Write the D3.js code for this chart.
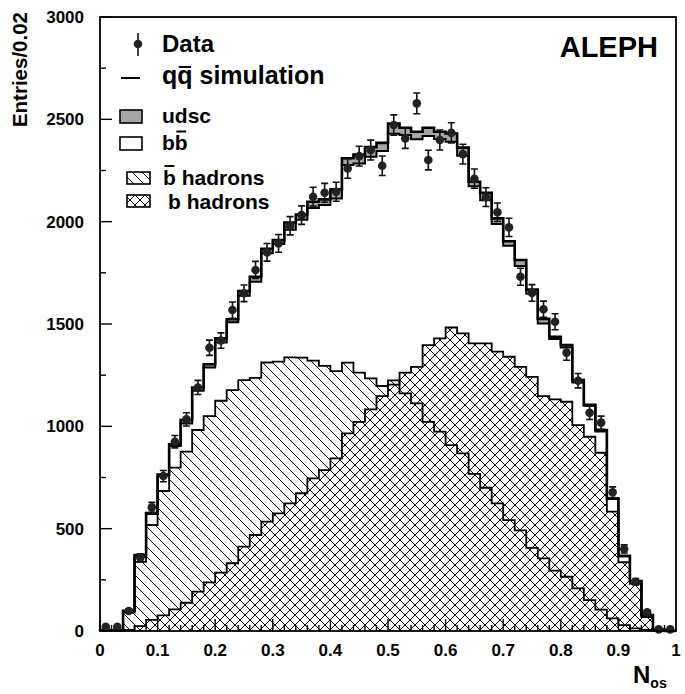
<!DOCTYPE html>
<html>
<head>
<meta charset="utf-8">
<script src="https://cdn.jsdelivr.net/npm/d3@7"></script>
<style>
body { margin: 0; background: #fff; }
text { font-family: "Liberation Sans", Arial, Helvetica, sans-serif; font-weight: bold; fill: #000; }
</style>
</head>
<body>
<div id="chart"></div>
<script>
// N_os histogram, 50 bins of width 0.02
const binWidth = 0.02

// simulation components (bb = bbar hadrons + b hadrons, udsc stacked on top)
const bbarHadrons = [2, 2, 90, 338, 518, 684, 798, 876, 982, 1050,
    1125, 1177, 1226, 1237, 1312, 1316, 1337, 1336, 1321, 1295,
    1270, 1311, 1262, 1234, 1197, 1225, 1161, 1112, 1022, 974,
    908, 868, 768, 700, 624, 542, 492, 406, 355, 295,
    265, 208, 151, 104, 62, 29, 13, 5, 1, 0]
const bHadrons = [0, 0, 5, 24, 54, 76, 106, 138, 192, 238,
    285, 331, 412, 469, 534, 575, 624, 673, 746, 786,
    843, 966, 1022, 1083, 1148, 1204, 1262, 1291, 1397, 1430,
    1483, 1454, 1405, 1405, 1365, 1340, 1291, 1242, 1148, 1132,
    1120, 1006, 949, 871, 583, 336, 230, 68, 4, 0]
const udsc = [1, 1, 4, 9, 4, 5, 8, 17, 16, 15,
    20, 15, 23, 25, 22, 19, 35, 26, 30, 28,
    45, 33, 44, 47, 40, 50, 36, 36, 40, 35,
    40, 40, 22, 36, 27, 22, 30, 20, 22, 10,
    12, 12, 5, 7, 3, 2, 1, 5, 2, 0]

// measured data
const dataCounts = [20, 20, 98, 358, 604, 757, 925, 1034, 1190, 1384,
    1419, 1568, 1650, 1764, 1850, 1894, 1980, 2032, 2122, 2141,
    2146, 2260, 2320, 2350, 2273, 2472, 2407, 2578, 2301, 2399,
    2434, 2330, 2210, 2120, 2046, 1972, 1731, 1652, 1572, 1511,
    1360, 1223, 1066, 1018, 678, 401, 241, 91, 8, 8]
const dataErrors = [4.5, 4.5, 9.9, 18.9, 24.6, 27.5, 30.4, 32.2, 34.5, 37.2,
    37.7, 39.6, 40.6, 42.0, 43.0, 43.5, 44.5, 45.1, 46.1, 46.3,
    46.3, 47.5, 48.2, 48.5, 47.7, 49.7, 49.1, 50.8, 48.0, 49.0,
    49.3, 48.3, 47.0, 46.0, 45.2, 44.4, 41.6, 40.6, 39.6, 38.9,
    36.9, 35.0, 32.6, 31.9, 26.0, 20.0, 15.5, 9.5, 2.8, 2.8]

const xMajor = [0, 0.1, 0.2, 0.3, 0.4, 0.5, 0.6, 0.7, 0.8, 0.9, 1]
const xLabels = ["0", "0.1", "0.2", "0.3", "0.4", "0.5", "0.6", "0.7", "0.8", "0.9", "1"]
const yMajor = [0, 500, 1000, 1500, 2000, 2500, 3000]
const yMinor = [250, 750, 1250, 1750, 2250, 2750]

const dimensions = { "width": 685, "height": 694 }
const margin = { "top": 17, "left": 100, "right": 9, "bottom": 63 }

const x = d3.scaleLinear().domain([0, 1]).range([margin.left, dimensions.width - margin.right])
const y = d3.scaleLinear().domain([0, 3000]).range([dimensions.height - margin.bottom, margin.top])

const svg = d3.select("#chart").append("svg")
    .attr("width", dimensions.width).attr("height", dimensions.height)

// hatch patterns
const defs = svg.append("defs")
const hs = 10
defs.append("pattern").attr("id", "hatch1").attr("patternUnits", "userSpaceOnUse")
    .attr("width", hs).attr("height", hs)
    .append("path")
    .attr("d", `M-1,-1L${hs + 1},${hs + 1}M-1,${hs - 1}L1,${hs + 1}M${hs - 1},-1L${hs + 1},1`)
    .attr("stroke", "#000").attr("stroke-width", 1)
const cross = defs.append("pattern").attr("id", "hatch2").attr("patternUnits", "userSpaceOnUse")
    .attr("width", hs).attr("height", hs)
cross.append("path")
    .attr("d", `M-1,-1L${hs + 1},${hs + 1}M-1,${hs - 1}L1,${hs + 1}M${hs - 1},-1L${hs + 1},1` +
        `M-1,${hs + 1}L${hs + 1},-1M-1,1L1,-1M${hs - 1},${hs + 1}L${hs + 1},${hs - 1}`)
    .attr("stroke", "#000").attr("stroke-width", 1)

// stacked totals
const bb = bbarHadrons.map((v, i) => v + bHadrons[i])
const total = bb.map((v, i) => v + udsc[i])

function stepPath(values) {
    var p = d3.path()
    p.moveTo(x(0), y(0))
    values.forEach((v, i) => {
        p.lineTo(x(i * binWidth), y(v))
        p.lineTo(x((i + 1) * binWidth), y(v))
    })
    p.lineTo(x(values.length * binWidth), y(0))
    return p.toString()
}

const plot = svg.append("g")
plot.append("path").attr("d", stepPath(total) + "Z").attr("fill", "#a6a6a6")
plot.append("path").attr("d", stepPath(bb) + "Z").attr("fill", "#fff")
plot.append("path").attr("d", stepPath(bbarHadrons) + "Z").attr("fill", "url(#hatch1)")
plot.append("path").attr("d", stepPath(bHadrons) + "Z").attr("fill", "url(#hatch2)")

plot.append("path").attr("d", stepPath(bbarHadrons)).attr("fill", "none").attr("stroke", "#000").attr("stroke-width", 1.8)
plot.append("path").attr("d", stepPath(bHadrons)).attr("fill", "none").attr("stroke", "#000").attr("stroke-width", 1.8)
plot.append("path").attr("d", stepPath(bb)).attr("fill", "none").attr("stroke", "#000").attr("stroke-width", 2)
plot.append("path").attr("d", stepPath(total)).attr("fill", "none").attr("stroke", "#000").attr("stroke-width", 2.6)

// data points
const pts = plot.selectAll("g.pt").data(dataCounts).join("g").attr("class", "pt")
    .attr("transform", (d, i) => `translate(${x((i + 0.5) * binWidth)},0)`)
pts.append("path")
    .attr("d", (d, i) => {
        var lo = y(Math.max(0, d - dataErrors[i])), hi = y(d + dataErrors[i])
        return `M0,${lo}L0,${hi}M-3.5,${lo}L3.5,${lo}M-3.5,${hi}L3.5,${hi}`
    })
    .attr("stroke", "#111").attr("stroke-width", 1.6).attr("fill", "none")
pts.append("circle").attr("cy", d => y(d)).attr("r", 4.3).attr("fill", "#222")

// frame and ticks
svg.append("rect").attr("x", x(0)).attr("y", y(3000))
    .attr("width", x(1) - x(0)).attr("height", y(0) - y(3000))
    .attr("fill", "none").attr("stroke", "#000").attr("stroke-width", 1.8)

const ticks = svg.append("g").attr("stroke", "#000").attr("stroke-width", 1.4)
yMajor.forEach(v => ticks.append("line").attr("x1", x(0)).attr("x2", x(0) + 12).attr("y1", y(v)).attr("y2", y(v)))
yMinor.forEach(v => ticks.append("line").attr("x1", x(0)).attr("x2", x(0) + 6).attr("y1", y(v)).attr("y2", y(v)))
dataCounts.forEach((_, i) => {
    var len = i % 5 == 0 ? 12 : 6
    ticks.append("line").attr("x1", x(i * binWidth)).attr("x2", x(i * binWidth))
        .attr("y1", y(0)).attr("y2", y(0) - len)
})

svg.append("g").selectAll("text").data(yMajor).join("text")
    .attr("x", x(0) - 16).attr("y", d => y(d) + 6)
    .attr("text-anchor", "end").attr("font-size", 17).text(d => d)
svg.append("g").selectAll("text").data(xMajor).join("text")
    .attr("x", d => x(d)).attr("y", y(0) + 25)
    .attr("text-anchor", "middle").attr("font-size", 17).text((d, i) => xLabels[i])

// axis titles
svg.append("text").attr("transform", "translate(27,12) rotate(-90)")
    .attr("text-anchor", "end").attr("font-size", 20.5).text("Entries/0.02")
const nos = svg.append("text").attr("x", 633).attr("y", 683).attr("font-size", 24)
nos.append("tspan").text("N")
nos.append("tspan").attr("font-size", 14).attr("dy", 5).text("os")

svg.append("text").attr("x", 658).attr("y", 57).attr("text-anchor", "end")
    .attr("font-size", 29).text("ALEPH")

// legend
const leg = svg.append("g")
leg.append("line").attr("x1", 138).attr("x2", 138).attr("y1", 33).attr("y2", 56)
    .attr("stroke", "#111").attr("stroke-width", 1.6)
leg.append("circle").attr("cx", 138).attr("cy", 44).attr("r", 4.3).attr("fill", "#222")
leg.append("text").attr("x", 162).attr("y", 52).attr("font-size", 24).text("Data")

leg.append("line").attr("x1", 121).attr("x2", 140).attr("y1", 78).attr("y2", 78)
    .attr("stroke", "#000").attr("stroke-width", 2)
const qq = leg.append("text").attr("x", 162).attr("y", 84).attr("font-size", 25).text("qq simulation")

leg.append("rect").attr("x", 120).attr("y", 110).attr("width", 22).attr("height", 13)
    .attr("fill", "#a6a6a6").attr("stroke", "#000").attr("stroke-width", 1.6)
leg.append("text").attr("x", 162).attr("y", 123).attr("font-size", 21).text("udsc")

leg.append("rect").attr("x", 120).attr("y", 137).attr("width", 22).attr("height", 13)
    .attr("fill", "#fff").attr("stroke", "#000").attr("stroke-width", 1.6)
const bbl = leg.append("text").attr("x", 162).attr("y", 150).attr("font-size", 21).text("bb")

leg.append("rect").attr("x", 127).attr("y", 172).attr("width", 23).attr("height", 12)
    .attr("fill", "url(#hatch1)").attr("stroke", "#000").attr("stroke-width", 1.6)
const bbar = leg.append("text").attr("x", 163).attr("y", 185).attr("font-size", 21).text("b hadrons")

leg.append("rect").attr("x", 127).attr("y", 195).attr("width", 23).attr("height", 12)
    .attr("fill", "url(#hatch2)").attr("stroke", "#000").attr("stroke-width", 1.6)
leg.append("text").attr("x", 168).attr("y", 209).attr("font-size", 21).text("b hadrons")

// bars over the anti-quarks
function overline(textSel, charIndex, rise) {
    var node = textSel.node()
    var s = node.getStartPositionOfChar(charIndex)
    var e = node.getEndPositionOfChar(charIndex)
    leg.append("line").attr("x1", s.x + 1.5).attr("x2", e.x - 1.5)
        .attr("y1", s.y - rise).attr("y2", s.y - rise)
        .attr("stroke", "#000").attr("stroke-width", 2)
}
overline(qq, 1, 17)
overline(bbl, 1, 18.5)
overline(bbar, 0, 19)
</script>
</body>
</html>
